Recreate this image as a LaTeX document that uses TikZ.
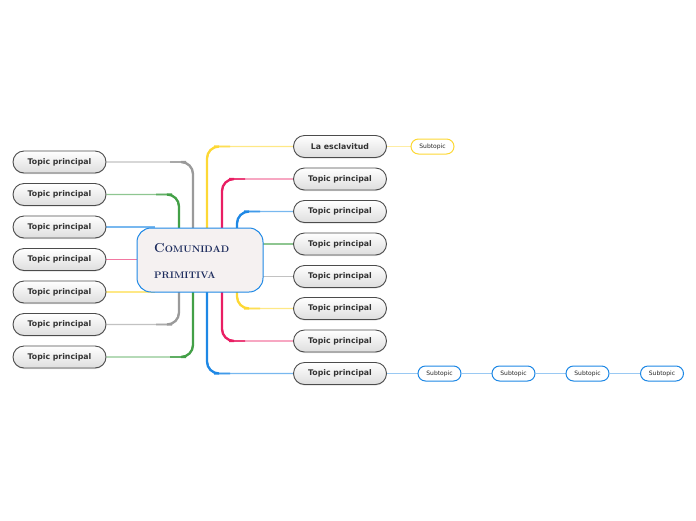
\documentclass[tikz,border=0pt]{standalone}
\usepackage{fontspec}
\setsansfont{DejaVu Sans}
\usetikzlibrary{shapes.misc,shadows}
\definecolor{cgray}{HTML}{9A9A9A}
\definecolor{cgreen}{HTML}{43A047}
\definecolor{cblue}{HTML}{1E88E5}
\definecolor{cpink}{HTML}{E91E63}
\definecolor{cyellow}{HTML}{FDD835}
\definecolor{navy}{HTML}{1B2A5C}
\definecolor{cfill}{HTML}{F5F1F1}
\pgfdeclarelayer{bg}
\pgfsetlayers{bg,main}
\tikzset{
  topic/.style={rounded rectangle, draw=black!70, line width=0.9pt, top color=white, bottom color=black!13,
    minimum width=93pt, minimum height=22pt, inner sep=0pt,
    font=\sffamily\bfseries\fontsize{7.8}{9}\selectfont, text=black!80,
    drop shadow={shadow xshift=0pt, shadow yshift=-1pt, opacity=0.25}},
  subtopic/.style={rounded rectangle, draw=#1, line width=1pt, fill=white,
    minimum width=43pt, minimum height=15pt, inner sep=0pt,
    font=\sffamily\fontsize{6}{7}\selectfont, text=black!85},
  central/.style={rectangle, rounded corners=14pt, draw=cblue, line width=1pt, fill=cfill,
    minimum width=126pt, minimum height=64pt, inner sep=0pt},
  ctext/.style={anchor=base west, inner sep=0pt, text=navy, font=\rmfamily\bfseries},
  thinline/.style={draw=#1!60, line width=1.1pt, rounded corners=12pt},
  midline/.style={draw=#1!85, line width=1.6pt, rounded corners=12pt},
  thickline/.style={draw=#1, line width=2.3pt, rounded corners=12pt},
  subline/.style={draw=#1!45, line width=1.6pt}
}
\begin{document}
\begin{tikzpicture}[x=1pt,y=-1pt]
\useasboundingbox (0,0) rectangle (696,520);
% central
\node[central] (C) at (200,260) {};
\node[ctext] (t1) at (154,252) {\fontsize{13}{13}\selectfont C\fontsize{9.5}{10}\selectfont OMUNIDAD};
\node[ctext] (t2) at (154,278) {\fontsize{9.5}{10}\selectfont PRIMITIVA};
% left topics
\node[topic] (L1) at (59.5,162) {Topic principal};
\node[topic] (L2) at (59.5,194.5) {Topic principal};
\node[topic] (L3) at (59.5,227) {Topic principal};
\node[topic] (L4) at (59.5,259.5) {Topic principal};
\node[topic] (L5) at (59.5,292) {Topic principal};
\node[topic] (L6) at (59.5,324.5) {Topic principal};
\node[topic] (L7) at (59.5,357) {Topic principal};
% right topics
\node[topic] (R1) at (340,146.5) {La esclavitud};
\node[topic] (R2) at (340,179) {Topic principal};
\node[topic] (R3) at (340,211.5) {Topic principal};
\node[topic] (R4) at (340,244) {Topic principal};
\node[topic] (R5) at (340,276.5) {Topic principal};
\node[topic] (R6) at (340,308.5) {Topic principal};
\node[topic] (R7) at (340,341) {Topic principal};
\node[topic] (R8) at (340,373.5) {Topic principal};
% subtopics
\node[subtopic=cyellow] (S1) at (432.5,146.5) {Subtopic};
\node[subtopic=cblue] (S2) at (439.5,373.5) {Subtopic};
\node[subtopic=cblue] (S3) at (513.5,373.5) {Subtopic};
\node[subtopic=cblue] (S4) at (587.5,373.5) {Subtopic};
\node[subtopic=cblue] (S5) at (662,373.5) {Subtopic};
% anchor coordinates on the central node
\coordinate (ct179) at (179,232);
\coordinate (ct193) at (193,232);
\coordinate (ct207) at (207,232);
\coordinate (ct222) at (222,232);
\coordinate (ct237) at (237,232);
\coordinate (cb179) at (179,288);
\coordinate (cb193) at (193,288);
\coordinate (cb207) at (207,288);
\coordinate (cb222) at (222,288);
\coordinate (cb237) at (237,288);
\coordinate (cl227) at (155,227);
\coordinate (cl260) at (150,259.5);
\coordinate (cl292) at (155,292);
\coordinate (cr244) at (250,244);
\coordinate (cr276) at (250,276.5);
\begin{pgfonlayer}{bg}
  % left
  \draw[thinline=cgray] (ct193) |- (L1.east);
  \draw[midline=cgray] (ct193) |- (170,162);
  \draw[thickline=cgray] (ct193) |- (186,162);
  \draw[thinline=cgreen] (ct179) |- (L2.east);
  \draw[midline=cgreen] (ct179) |- (156,194.5);
  \draw[thickline=cgreen] (ct179) |- (172,194.5);
  \draw[thinline=cblue] (cl227) -- (L3.east);
  \draw[thinline=cpink] (cl260) -- (L4.east);
  \draw[thinline=cyellow] (cl292) -- (L5.east);
  \draw[thinline=cgray] (cb179) |- (L6.east);
  \draw[midline=cgray] (cb179) |- (156,324.5);
  \draw[thickline=cgray] (cb179) |- (172,324.5);
  \draw[thinline=cgreen] (cb193) |- (L7.east);
  \draw[midline=cgreen] (cb193) |- (170,357);
  \draw[thickline=cgreen] (cb193) |- (186,357);
  % right
  \draw[thinline=cyellow] (ct207) |- (R1.west);
  \draw[midline=cyellow] (ct207) |- (230,146.5);
  \draw[thickline=cyellow] (ct207) |- (214,146.5);
  \draw[thinline=cpink] (ct222) |- (R2.west);
  \draw[midline=cpink] (ct222) |- (245,179);
  \draw[thickline=cpink] (ct222) |- (229,179);
  \draw[thinline=cblue] (ct237) |- (R3.west);
  \draw[midline=cblue] (ct237) |- (260,211.5);
  \draw[thickline=cblue] (ct237) |- (244,211.5);
  \draw[thinline=cgreen] (cr244) -- (R4.west);
  \draw[thinline=cgray] (cr276) -- (R5.west);
  \draw[thinline=cyellow] (cb237) |- (R6.west);
  \draw[midline=cyellow] (cb237) |- (260,308.5);
  \draw[thickline=cyellow] (cb237) |- (244,308.5);
  \draw[thinline=cpink] (cb222) |- (R7.west);
  \draw[midline=cpink] (cb222) |- (245,341);
  \draw[thickline=cpink] (cb222) |- (229,341);
  \draw[thinline=cblue] (cb207) |- (R8.west);
  \draw[midline=cblue] (cb207) |- (230,373.5);
  \draw[thickline=cblue] (cb207) |- (214,373.5);
  % subtopics
  \draw[subline=cyellow] (R1.east) -- (S1.west);
  \draw[subline=cblue] (R8.east) -- (S2.west);
  \draw[subline=cblue] (S2.east) -- (S3.west);
  \draw[subline=cblue] (S3.east) -- (S4.west);
  \draw[subline=cblue] (S4.east) -- (S5.west);
\end{pgfonlayer}
\end{tikzpicture}
\end{document}
